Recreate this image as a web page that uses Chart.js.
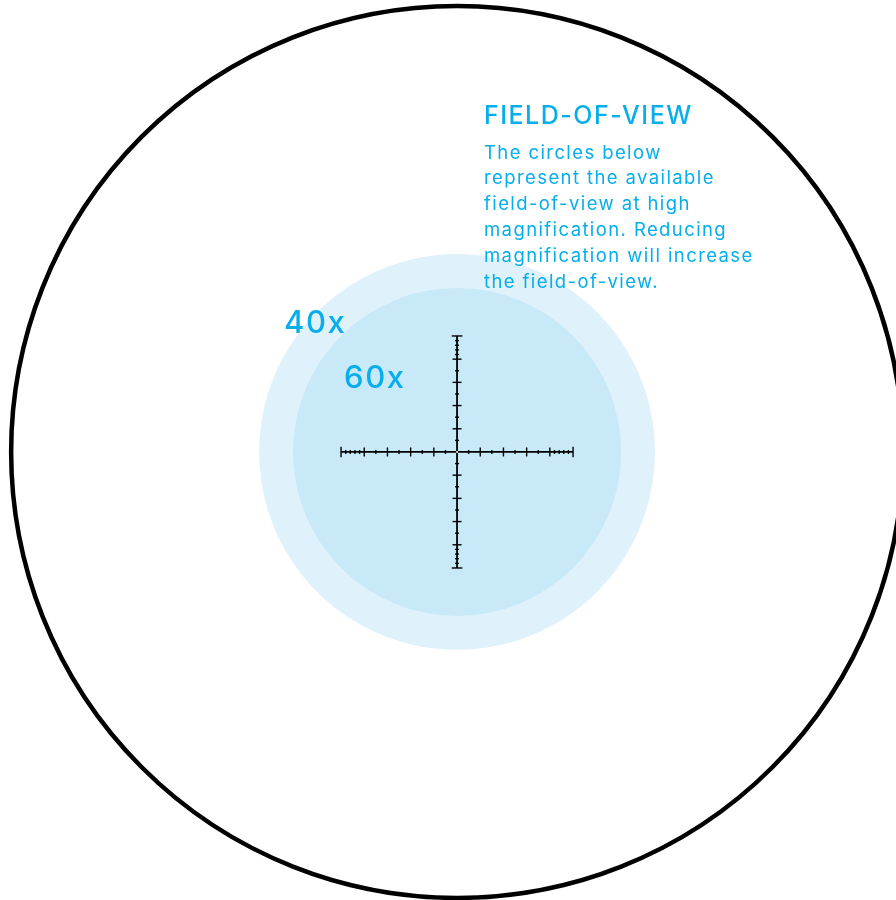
<!DOCTYPE html>
<html>
<head>
<meta charset="utf-8">
<script src="https://cdn.jsdelivr.net/npm/chart.js@4"></script>
<style>
  html, body { margin: 0; padding: 0; background: #fff; }
  canvas { display: block; }
</style>
</head>
<body>
<canvas id="fov" width="896" height="900"></canvas>
<script>
// radii in mil (reticle units)
const circleNames = ['scope', '40x', '60x'];
const circleRadius = [19.22, 8.53, 7.07];

// reticle hash marks, in mil from centre
const majorTicks = [-4, -3, -2, -1, 1, 2, 3, 4];
const minorTicks = [-4.8, -4.6, -4.4, -4.2, -3.5, -2.5, -1.5, -0.5, 0.5, 1.5, 2.5, 3.5, 4.2, 4.4, 4.6, 4.8];
const endTicks = [-5, 5];
const reticleHalf = 5;

const titleText = 'FIELD-OF-VIEW';
const bodyLines = [
    'The circles below',
    'represent the available',
    'field-of-view at high',
    'magnification. Reducing',
    'magnification will increase',
    'the field-of-view.'
];

const blue = '#06aeec';

const ctx = document.getElementById('fov').getContext('2d');

function pxPerUnit(chart) {
    const x = chart.scales && chart.scales.x;
    if (!x) return 0;
    return x.getPixelForValue(1) - x.getPixelForValue(0);
}

function ringRadius(i) {
    return c => pxPerUnit(c.chart) * circleRadius[i] || 0;
}

const onX = v => ({x: v, y: 0});
const onY = v => ({x: 0, y: v});

function ring(i, fill, border, width, order) {
    return {
        type: 'scatter',
        label: circleNames[i],
        data: [{x: 0, y: 0}],
        pointRadius: ringRadius(i),
        pointBackgroundColor: fill,
        pointBorderColor: border,
        pointBorderWidth: width,
        clip: false,
        order: order
    };
}

function tickSet(values, size, rot) {
    return {
        type: 'scatter',
        data: values.map(rot ? onX : onY),
        pointStyle: 'line',
        rotation: rot ? 90 : 0,
        pointRadius: size,
        borderColor: '#000',
        borderWidth: 1.4,
        order: 1
    };
}

function crossLine(map) {
    return {
        type: 'line',
        data: [-reticleHalf, reticleHalf].map(map),
        borderColor: '#000',
        borderWidth: 1.8,
        pointRadius: 0,
        order: 2
    };
}

// text overlay
const textPlugin = {
    id: 'fovText',
    afterDraw(chart) {
        const g = chart.ctx;
        const x = chart.scales.x, y = chart.scales.y;
        const cx = x.getPixelForValue(0), cy = y.getPixelForValue(0);
        g.save();
        g.fillStyle = blue;
        g.textBaseline = 'alphabetic';
        g.textAlign = 'left';
        g.font = '500 25px Inter';
        g.letterSpacing = '1.5px';
        g.fillText(titleText, 484, 124);
        g.font = '18.5px Inter';
        g.letterSpacing = '1.4px';
        bodyLines.forEach((t, i) => g.fillText(t, 484, 158.5 + i * 25.8));
        g.font = '500 31px Inter';
        g.letterSpacing = '1.6px';
        g.fillText(circleNames[1], cx - 173, cy - 119);
        g.fillText(circleNames[2], cx - 113, cy - 64);
        g.restore();
    }
};

new Chart(ctx, {
    type: 'scatter',
    data: {
        datasets: [
            ring(0, 'rgba(0,0,0,0)', '#000', 4.5, 5),
            ring(1, '#dff1fb', 'rgba(0,0,0,0)', 0, 4),
            ring(2, '#c7e9f8', 'rgba(0,0,0,0)', 0, 3),
            crossLine(onX),
            crossLine(onY),
            tickSet(majorTicks, 4.5, true),
            tickSet(minorTicks, 2, true),
            tickSet(endTicks, 5.3, true),
            tickSet(majorTicks, 4.5, false),
            tickSet(minorTicks, 2, false),
            tickSet(endTicks, 5.3, false),
            {
                // small open dot where the wires cross
                type: 'scatter',
                data: [{x: 0, y: 0}],
                pointRadius: 1,
                pointBackgroundColor: '#fff',
                pointBorderWidth: 0,
                order: 0
            }
        ]
    },
    options: {
        responsive: false,
        animation: false,
        events: [],
        layout: { padding: 0, autoPadding: false },
        scales: {
            x: { type: 'linear', min: -19.7, max: 18.92, display: false },
            y: { type: 'linear', min: -19.31, max: 19.48, display: false }
        },
        plugins: {
            legend: { display: false },
            tooltip: { enabled: false }
        }
    },
    plugins: [textPlugin]
});
</script>
</body>
</html>
